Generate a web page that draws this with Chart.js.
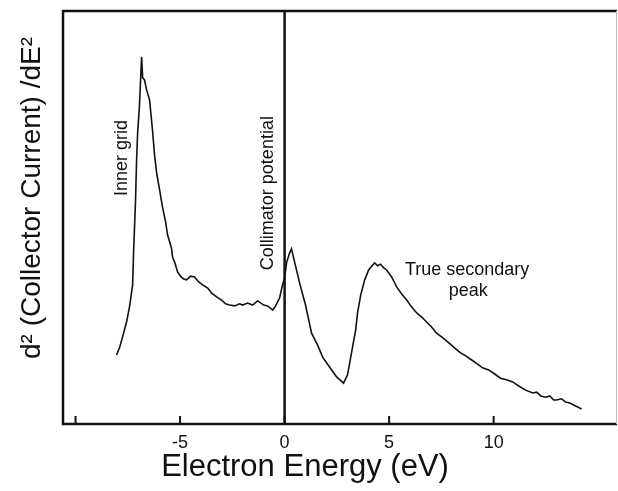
<!DOCTYPE html>
<html>
<head>
<meta charset="utf-8">
<script src="https://cdn.jsdelivr.net/npm/chart.js@4.4.1/dist/chart.umd.min.js"></script>
<style>
  body { margin: 0; background: #fff; }
</style>
</head>
<body>
<canvas id="spectrumChart" width="618" height="491"></canvas>
<script>
// electron energy (eV) and d2I/dE2 signal (arbitrary units, 0..100)
const energy = [
  -8.04, -7.89, -7.75, -7.56, -7.42, -7.27, -7.22, -7.13, -7.08, -7.03,
  -6.94, -6.89, -6.84, -6.79, -6.70, -6.60, -6.46, -6.32, -6.22, -6.12,
  -5.98, -5.84, -5.69, -5.60, -5.41, -5.36, -5.26, -5.12, -4.98, -4.83,
  -4.69, -4.50, -4.31, -4.11, -3.92, -3.68, -3.49, -3.25, -3.01, -2.82,
  -2.63, -2.39, -2.15, -2.01, -1.77, -1.53, -1.29, -1.20, -1.00, -0.81,
  -0.57, -0.43, -0.24, -0.10, 0.00, 0.10, 0.24, 0.33, 0.48, 0.72,
  1.00, 1.29, 1.58, 1.82, 2.15, 2.49, 2.82, 3.01, 3.25, 3.40,
  3.49, 3.64, 3.83, 4.02, 4.21, 4.31, 4.45, 4.59, 4.74, 4.88,
  5.12, 5.36, 5.60, 5.84, 6.08, 6.32, 6.56, 6.79, 7.03, 7.27,
  7.51, 7.80, 8.09, 8.37, 8.66, 8.95, 9.23, 9.47, 9.76, 10.05,
  10.33, 10.62, 10.91, 11.20, 11.53, 11.87, 12.06, 12.25, 12.49, 12.68,
  12.87, 13.01, 13.25, 13.44, 13.64, 13.83, 14.02, 14.21
];
const signal = [
  16.7, 18.6, 21.1, 24.7, 28.3, 33.7, 42.1, 54.2, 63.9, 70.5,
  77.2, 83.3, 88.9, 83.8, 83.3, 80.9, 78.5, 71.2, 65.1, 60.8,
  56.7, 52.5, 48.9, 45.8, 42.6, 40.4, 39.2, 36.8, 35.8, 35.1,
  34.9, 35.8, 35.6, 34.4, 33.7, 32.9, 31.7, 30.8, 30.0, 29.1,
  28.8, 28.6, 29.1, 28.8, 29.3, 28.8, 29.8, 29.5, 28.8, 28.6,
  27.6, 28.6, 30.5, 33.7, 35.4, 39.2, 41.4, 42.4, 39.2, 34.1,
  28.8, 22.0, 19.1, 16.2, 13.8, 11.4, 9.9, 11.9, 18.6, 22.8,
  26.9, 31.2, 34.9, 37.3, 38.5, 39.0, 38.3, 38.7, 37.8, 37.3,
  35.6, 33.2, 31.5, 30.0, 28.3, 26.9, 25.9, 24.7, 23.5, 22.0,
  21.1, 19.9, 18.6, 17.4, 16.5, 15.5, 14.5, 13.6, 13.1, 12.1,
  11.1, 10.7, 10.2, 9.2, 8.2, 7.5, 7.7, 6.8, 6.5, 6.8,
  5.8, 5.8, 6.1, 5.3, 5.1, 4.6, 4.1, 3.6
];
const tickValues = [-10, -5, 0, 5, 10];
const tickLabels = ['', '-5', '0', '5', '10'];

const FONT = '"Liberation Sans", Arial, Helvetica, sans-serif';

const framePlugin = {
  id: 'framePlugin',
  afterDraw(chart) {
    const { ctx, chartArea: a, scales: { x, y } } = chart;
    ctx.save();
    // frame: top, left, bottom dark; right side faint
    ctx.strokeStyle = '#111';
    ctx.lineWidth = 2.5;
    ctx.beginPath();
    ctx.moveTo(a.right, a.top);
    ctx.lineTo(a.left, a.top);
    ctx.lineTo(a.left, a.bottom);
    ctx.lineTo(a.right, a.bottom);
    ctx.stroke();
    ctx.strokeStyle = '#bbb';
    ctx.lineWidth = 1;
    ctx.beginPath();
    ctx.moveTo(a.right - 0.5, a.top);
    ctx.lineTo(a.right - 0.5, a.bottom);
    ctx.stroke();
    // inward tick marks
    ctx.strokeStyle = '#111';
    ctx.lineWidth = 2;
    ctx.beginPath();
    tickValues.forEach(v => {
      const px = x.getPixelForValue(v);
      ctx.moveTo(px, a.bottom);
      ctx.lineTo(px, a.bottom - 8);
    });
    ctx.stroke();

    // labels
    ctx.fillStyle = '#111';
    ctx.textAlign = 'center';
    ctx.textBaseline = 'middle';

    ctx.font = '31px ' + FONT;
    ctx.fillText('Electron Energy (eV)', 305, 467);

    ctx.save();
    ctx.translate(32, 198);
    ctx.rotate(-Math.PI / 2);
    ctx.font = '28px ' + FONT;
    ctx.fillText('d\u00b2 (Collector Current) /dE\u00b2', 0, 0);
    ctx.restore();

    ctx.font = '18px ' + FONT;
    const rotated = (text, ex, sy) => {
      ctx.save();
      ctx.translate(x.getPixelForValue(ex), y.getPixelForValue(sy));
      ctx.rotate(-Math.PI / 2);
      ctx.fillText(text, 0, 0);
      ctx.restore();
    };
    rotated('Inner grid', -7.78, 64.4);
    rotated('Collimator potential', -0.79, 55.9);
    ctx.fillText('True secondary', x.getPixelForValue(8.73), y.getPixelForValue(37.3));
    ctx.fillText('peak', x.getPixelForValue(8.78), y.getPixelForValue(32.2));
    ctx.restore();
  }
};

const chartCanvas = document.getElementById('spectrumChart');
const spectrumChart = new Chart(chartCanvas, {
  type: 'line',
  data: {
    datasets: [
      {
        label: 'spectrum',
        data: energy.map((e, i) => ({ x: e, y: signal[i] })),
        borderColor: '#111',
        borderWidth: 1.6,
        pointRadius: 0,
        tension: 0,
        fill: false,
      },
      {
        label: 'zero',
        data: [{ x: 0, y: 0 }, { x: 0, y: 100 }],
        borderColor: '#111',
        borderWidth: 2.5,
        pointRadius: 0,
        fill: false,
      },
    ],
  },
  options: {
    responsive: false,
    animation: false,
    layout: { padding: { top: 11, right: 1, left: 0, bottom: 0 } },
    plugins: {
      legend: { display: false },
      tooltip: { enabled: false },
    },
    scales: {
      x: {
        type: 'linear',
        min: -10.6,
        max: 15.9,
        grid: { display: false, drawTicks: false },
        border: { display: false },
        afterBuildTicks: (scale) => {
          scale.ticks = tickValues.map(v => ({ value: v }));
        },
        afterFit: (scale) => { scale.height = 67; },
        ticks: {
          padding: 8,
          color: '#111',
          font: { family: FONT, size: 18 },
          maxRotation: 0,
          autoSkip: false,
          callback: (value) => {
            const i = tickValues.indexOf(value);
            return i >= 0 ? tickLabels[i] : '';
          },
        },
      },
      y: {
        type: 'linear',
        min: 0,
        max: 100,
        grid: { display: false, drawTicks: false },
        border: { display: false },
        ticks: { display: false },
        afterFit: (scale) => { scale.width = 63; },
      },
    },
  },
  plugins: [framePlugin],
});
</script>
</body>
</html>
